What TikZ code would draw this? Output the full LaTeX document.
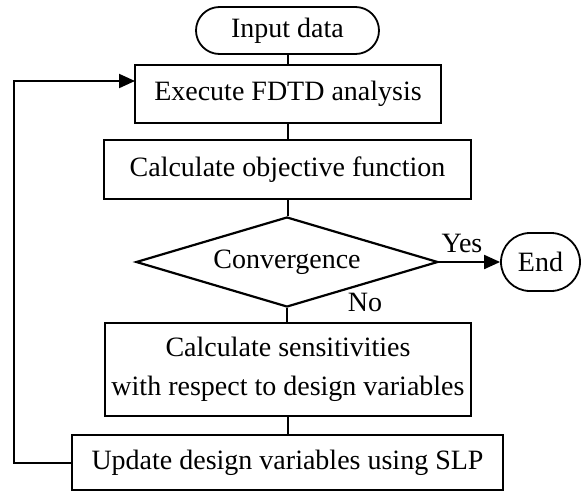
\documentclass[tikz,border=0pt]{standalone}
\usepackage{fontspec}
\setmainfont{Liberation Serif}
\usetikzlibrary{shapes.geometric,shapes.misc,arrows.meta}
\begin{document}
\begin{tikzpicture}[x=0.5pt,y=-0.5pt,
  every node/.style={font=\fontsize{14pt}{19.5pt}\selectfont},
  procbox/.style={draw, line width=1.1pt, rectangle, inner sep=0pt, align=center},
  termbox/.style={draw, line width=0.9pt, rounded rectangle, inner sep=0pt},
  decbox/.style={draw, line width=1.1pt, diamond, inner sep=0pt, shape aspect=3.36},
  conn/.style={line width=1pt},
  arr/.style={line width=1pt, -{Triangle[length=8pt,width=7pt]}},
  lbl/.style={inner sep=0pt}]
\useasboundingbox (0,0) rectangle (585,493);
\node[termbox, minimum width=91.5pt, minimum height=23.5pt] (in) at (287.5,30.5) {Input data};
\node[procbox, minimum width=153pt, minimum height=29pt] (fdtd) at (288,94) {Execute FDTD analysis};
\node[procbox, minimum width=183.5pt, minimum height=29.5pt] (obj) at (287.5,169.5) {Calculate objective function};
\node[decbox, minimum width=151pt, minimum height=45pt] (conv) at (287,262) {Convergence};
\node[termbox, minimum width=39.5pt, minimum height=29pt] (end) at (540.5,262) {End};
\node[procbox, minimum width=183pt, minimum height=46.5pt] (sens) at (288,369.5) {Calculate sensitivities\\with respect to design variables};
\node[procbox, minimum width=215.5pt, minimum height=27.5pt] (upd) at (287.5,462.5) {Update design variables using SLP};
\node[lbl] (yes) at (462,243) {Yes};
\node[lbl] (no) at (365,302) {No};
\coordinate (loopbot) at (14,462.5);
\coordinate (looptop) at (14,81);
\coordinate (fdtdin) at (135,81);
\draw[conn] (in.south) -- (in.south |- fdtd.north);
\draw[conn] (fdtd.south) -- (fdtd.south |- obj.north);
\draw[conn] (obj.south) -- (obj.south |- conv.north);
\draw[conn] (conv.south) -- (conv.south |- sens.north);
\draw[conn] (sens.south) -- (sens.south |- upd.north);
\draw[arr] (conv.east) -- (end.west);
\draw[arr] (upd.west) -- (loopbot) -- (looptop) -- (fdtdin);
\end{tikzpicture}
\end{document}
